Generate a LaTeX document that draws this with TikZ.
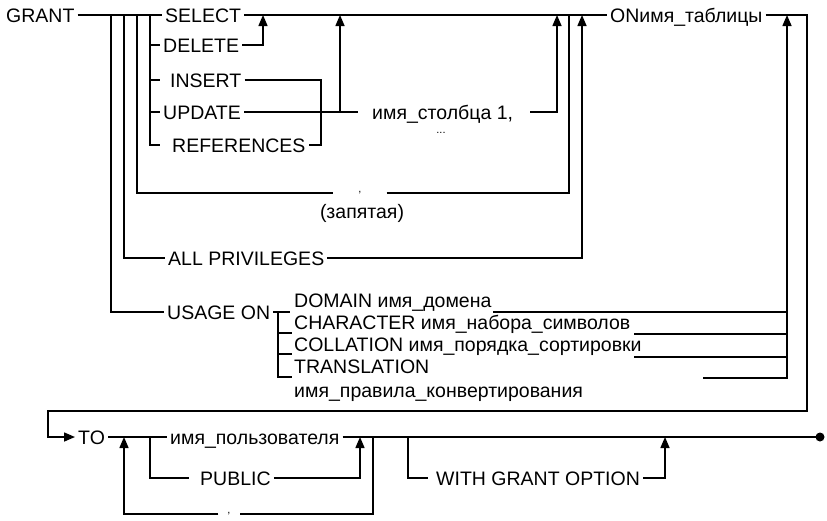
\documentclass[tikz,border=0pt]{standalone}
\usepackage{fontspec}
\setmainfont{Liberation Sans}
\usetikzlibrary{arrows.meta}

\tikzset{
  lbl/.style={anchor=west, inner xsep=3pt, inner ysep=0pt, text height=14pt, text depth=0pt, font=\fontsize{19.5}{21}\selectfont},
  gap/.style={inner ysep=0pt, font=\fontsize{11}{12}\selectfont},
  rail/.style={line width=1.5pt},
  up/.style={rail, -{Triangle[length=11pt,width=9pt]}},
}

\begin{document}
\begin{tikzpicture}[x=1pt,y=-1pt]
\useasboundingbox (0,0) rectangle (827,520);

\node[lbl] (grant) at (3,15) {GRANT};
\node[lbl] (select) at (162,15) {SELECT};
\node[lbl] (delete) at (160,45) {DELETE};
\node[lbl] (insert) at (167,80) {INSERT};
\node[lbl] (update) at (160,112) {UPDATE};
\node[lbl] (refs) at (169,145) {REFERENCES};
\node[lbl] (column) at (369,112) {имя\_столбца 1,};
\node[gap] (dots) at (441,133) {...};
\node[lbl] (on) at (607,15) {ONимя\_таблицы};
\node[gap, inner xsep=25pt] (sep1) at (360,193) {,};
\node[lbl, anchor=center] (sepname) at (362,211) {(запятая)};
\node[lbl] (allpriv) at (165,258) {ALL PRIVILEGES};
\node[lbl] (usage) at (164,312) {USAGE ON};
\node[lbl] (domain) at (291,300) {DOMAIN имя\_домена};
\node[lbl] (charset) at (291,322) {CHARACTER имя\_набора\_символов};
\node[lbl] (collate) at (291,344) {COLLATION имя\_порядка\_сортировки};
\node[lbl] (transl) at (291,366) {TRANSLATION};
\node[lbl] (convrule) at (291,390) {имя\_правила\_конвертирования};
\node[lbl] (to) at (75,437) {TO};
\node[lbl] (user) at (167,437) {имя\_пользователя};
\node[lbl] (public) at (197,478) {PUBLIC};
\node[lbl] (wgo) at (433,478) {WITH GRANT OPTION};
\node[gap, inner xsep=9pt] (sep2) at (229,514) {,};
\coordinate (cU) at (111,15);
\coordinate (cA) at (124,15);
\coordinate (cC) at (137,15);
\coordinate (cS) at (150,15);
\coordinate (stop) at (820,437);

\draw[rail] (grant) -- (select);
\draw[rail] (select) -- (on);
\draw[rail, -{Triangle[length=11pt,width=9pt]}] (on.east) -- (807,15) |- (48,411) |- (to);

\draw[rail] (cS) |- (160,145);
\draw[rail] (150,45) -- (delete);
\draw[rail] (150,80) -- (160,80);
\draw[rail] (150,112) -- (update);
\draw[up] (delete.east) -| (263,15);
\draw[rail] (insert.east) -| (321,145) -- (refs.east);
\draw[rail] (update.east) -- (358,112);
\draw[up] (340,112) -- (340,15);
\draw[up] ([xshift=14pt]column.east) -| (557,15);

\draw[rail] (cC) |- (sep1);
\draw[rail] (sep1) -| (569,15);
\draw[rail] (cA) |- (allpriv);
\draw[up] (allpriv.east) -| (582,15);

\draw[rail] (cU) |- (usage);
\draw[rail] (usage.east) -- (290,312);
\draw[rail] (278,312) |- (292,377);
\draw[rail] (278,333) -- (292,333);
\draw[rail] (278,354) -- (292,354);
\draw[rail] (493,312) -- (787,312);
\draw[rail] (634,334) -- (787,334);
\draw[rail] (634,357) -- (787,357);
\draw[up] (703,378) -| (787,15);

\draw[rail] (to) -- (user);
\draw[rail] (user) -- (stop);
\fill (stop) circle (4.5pt);
\draw[rail] (150,437) |- (189,478);
\draw[up] (public.east) -| (360,437);
\draw[rail] (373,437) |- (sep2);
\draw[up] (sep2) -| (124,437);
\draw[rail] (408,437) |- (428,478);
\draw[up] (wgo.east) -| (665,437);
\end{tikzpicture}
\end{document}
